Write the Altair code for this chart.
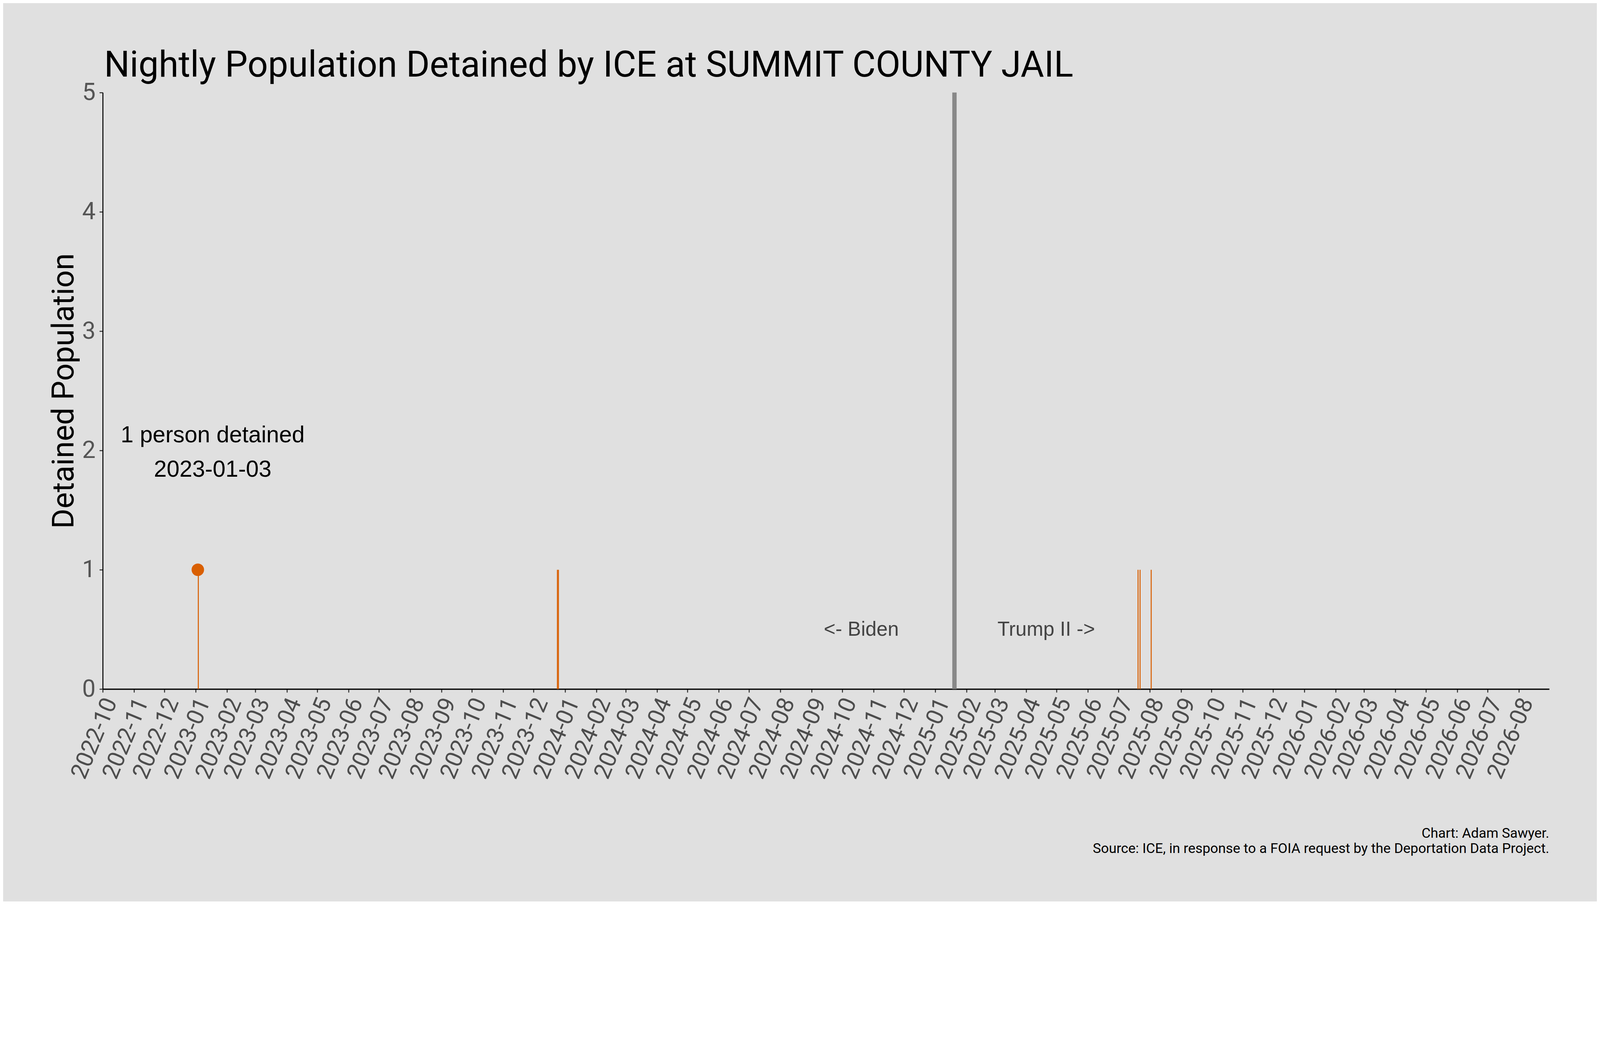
import altair as alt
import pandas as pd

# ---- data ----
dates = ["2023-01-03", "2023-12-24", "2023-12-25", "2025-07-20", "2025-07-22", "2025-08-02"]
counts = [1, 1, 1, 1, 1, 1]
x_domain = ["2022-10-01", "2026-08-31"]
y_ticks = [0, 1, 2, 3, 4, 5]
inauguration = ["2025-01-20"]
era_labels = ["<- Biden", "Trump II ->"]
title_text = ["Nightly Population Detained by ICE at SUMMIT COUNTY JAIL"]
y_title = "Detained Population"
footer_lines = ["Chart: Adam Sawyer.",
                "Source: ICE, in response to a FOIA request by the Deportation Data Project."]

ORANGE = "#d95f02"
BG = "#e0e0e0"
UI_FONT = "Roboto"
ANN_FONT = "Liberation Sans"

W, H = 4342, 1790

df = pd.DataFrame({"date": dates, "count": counts})
df["end"] = (pd.to_datetime(df["date"]) + pd.Timedelta(days=1)).dt.strftime("%Y-%m-%d")
peak = df.loc[[df["count"].idxmax()]].copy()
peak["label1"] = peak["count"].map(lambda v: f"{v} person detained" if v == 1 else f"{v} people detained")
peak["label2"] = peak["date"]

def dt(s):
    y, m, d = (int(p) for p in s.split("-"))
    return alt.DateTime(year=y, month=m, date=d, utc=True)

x_scale = alt.Scale(type="utc", domain=[dt(x_domain[0]), dt(x_domain[1])])
y_scale = alt.Scale(domain=[y_ticks[0], y_ticks[-1]], nice=False)

x_axis = alt.Axis(
    title=None, format="%Y-%m", tickCount={"interval": "month", "step": 1},
    labelAngle=-67.5, labelFontSize=70, labelFont=UI_FONT, labelColor="#4d4d4d",
    labelOverlap=False, labelFlush=False, labelPadding=20, labelOffset=24, labelLimit=2000,
    domainColor="black", domainWidth=4, tickColor="#333333", tickWidth=3, tickSize=10,
    grid=False,
)
y_axis = alt.Axis(
    values=y_ticks, format="d", labelFontSize=72, labelFont=UI_FONT, labelColor="#555555",
    labelPadding=12, domainColor="black", domainWidth=3, tickColor="#333333", tickWidth=3,
    tickSize=10, grid=False,
    title=y_title, titleFont=UI_FONT, titleFontSize=92, titleFontWeight="normal",
    titleColor="black", titleAngle=-90, titleX=-89, titleY=H / 2, titleAlign="center",
    titleBaseline="alphabetic",
)

bars = alt.Chart(df).mark_rect(color=ORANGE).encode(
    x=alt.X("date:T", scale=x_scale, axis=x_axis),
    x2="end:T",
    y=alt.Y("count:Q", scale=y_scale, axis=y_axis),
    y2=alt.datum(0),
)

dot = alt.Chart(peak).mark_circle(color=ORANGE, size=1400, opacity=1).encode(
    x="date:T", y="count:Q"
)

rule = alt.Chart(pd.DataFrame({"date": inauguration})).mark_rule(
    color="#888888", strokeWidth=13
).encode(x="date:T")

ann1 = alt.Chart(peak).mark_text(
    font=ANN_FONT, fontSize=69, color="black", align="center", baseline="alphabetic"
).encode(text="label1:N", x=alt.value(330), y=alt.value(1050))
ann2 = alt.Chart(peak).mark_text(
    font=ANN_FONT, fontSize=69, color="black", align="center", baseline="alphabetic"
).encode(text="label2:N", x=alt.value(330), y=alt.value(1153))

era_df = pd.DataFrame({"label": era_labels, "date": inauguration * 2,
                       "side": ["left", "right"]})
biden = alt.Chart(era_df[era_df.side == "left"]).mark_text(
    font=ANN_FONT, fontSize=60, color="#444444", align="right", baseline="alphabetic", dx=-167
).encode(text="label:N", x="date:T", y=alt.value(1630))
trump = alt.Chart(era_df[era_df.side == "right"]).mark_text(
    font=ANN_FONT, fontSize=60, color="#444444", align="left", baseline="alphabetic", dx=129
).encode(text="label:N", x="date:T", y=alt.value(1630))

title = alt.Chart(pd.DataFrame({"t": title_text})).mark_text(
    font=UI_FONT, fontSize=108, color="black", align="left", baseline="alphabetic"
).encode(text="t:N", x=alt.value(4), y=alt.value(-48))

foot_df = pd.DataFrame({"line": footer_lines, "row": [0, 1]})
foot1 = alt.Chart(foot_df[foot_df.row == 0]).mark_text(
    font=UI_FONT, fontSize=41.5, color="black", align="right", baseline="alphabetic"
).encode(text="line:N", x=alt.value(W), y=alt.value(2236))
foot2 = alt.Chart(foot_df[foot_df.row == 1]).mark_text(
    font=UI_FONT, fontSize=41.5, color="black", align="right", baseline="alphabetic"
).encode(text="line:N", x=alt.value(W), y=alt.value(2282))

chart = alt.layer(bars, dot, rule, ann1, ann2, biden, trump, title, foot1, foot2).properties(
    width=W, height=H,
    background=BG,
    padding={"left": 299, "top": 70, "right": 143, "bottom": 439},
    autosize=alt.AutoSizeParams(type="none"),
).configure_view(stroke=None)

chart.save("out.html", embed_options={"renderer": "svg", "actions": False})
